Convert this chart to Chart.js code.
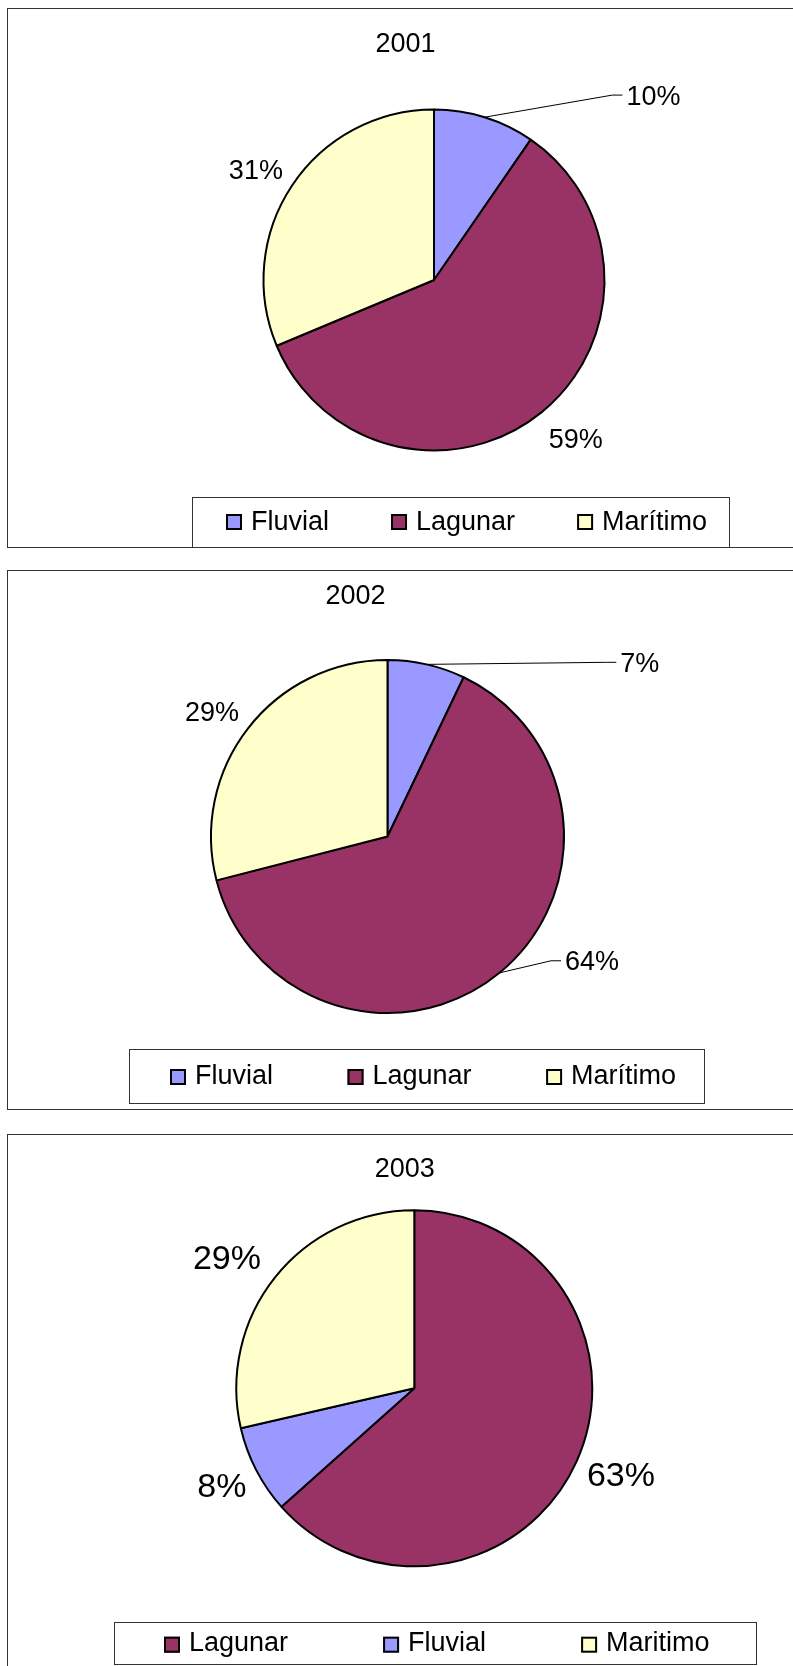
<!DOCTYPE html>
<html>
<head>
<meta charset="utf-8">
<script src="https://cdn.jsdelivr.net/npm/chart.js@4.4.0/dist/chart.umd.min.js"></script>
<style>
  body { margin: 0; width: 793px; height: 1666px; overflow: hidden; background: #fff; position: relative; }
  .frame { position: absolute; left: 7px; width: 900px; border: 1px solid #333; box-sizing: border-box; }
  canvas { position: absolute; left: 0; }
</style>
</head>
<body>
<div class="frame" style="top:8px;height:540px"></div>
<div class="frame" style="top:570px;height:540px"></div>
<div class="frame" style="top:1134px;height:600px"></div>
<canvas id="chart2001" width="793" height="560" style="top:0"></canvas>
<canvas id="chart2002" width="793" height="560" style="top:560px"></canvas>
<canvas id="chart2003" width="793" height="546" style="top:1120px"></canvas>
<script>
// Data (share of each type, %)
const years = ['2001', '2002', '2003'];
const categories2001 = ['Fluvial', 'Lagunar', 'Marítimo'];
const values2001 = [9.6, 59.1, 31.3];
const categories2002 = ['Fluvial', 'Lagunar', 'Marítimo'];
const values2002 = [7.1, 63.9, 29.0];
const categories2003 = ['Lagunar', 'Fluvial', 'Maritimo'];
const values2003 = [63.4, 8.0, 28.6];

const FONT = '"Liberation Sans", Arial, sans-serif';
const colorOf = {
    'Fluvial': '#9999FF',
    'Lagunar': '#993366',
    'Marítimo': '#FFFFCC',
    'Maritimo': '#FFFFCC'
};

function makePie(id, title, labels, values, cfg) {
    const canvas = document.getElementById(id);
    const W = canvas.width, H = canvas.height;
    const pad = 2;

    // title, % labels (with leader lines) and the boxed legend
    const decor = {
        id: 'decor' + title,
        afterDraw(chart) {
            const ctx = chart.ctx;
            const meta = chart.getDatasetMeta(0);
            const data = chart.data.datasets[0].data;
            const total = data.reduce((a, b) => a + b, 0);
            ctx.save();
            ctx.fillStyle = '#000';
            ctx.textBaseline = 'alphabetic';

            ctx.font = cfg.titleSize + 'px ' + FONT;
            ctx.textAlign = 'center';
            ctx.fillText(title, cfg.titleX, cfg.titleY + 0.358 * cfg.titleSize);

            ctx.font = cfg.labelSize + 'px ' + FONT;
            meta.data.forEach((arc, i) => {
                const p = cfg.labels[i];
                const mid = (arc.startAngle + arc.endAngle) / 2;
                const a = mid + p.shift * Math.PI / 180;
                const r = arc.outerRadius;
                const lx = arc.x + Math.cos(a) * r * p.dist;
                const ly = arc.y + Math.sin(a) * r * p.dist;
                const text = Math.round(data[i] / total * 100) + '%';
                const w = ctx.measureText(text).width;
                ctx.fillStyle = '#000';
                ctx.textAlign = 'center';
                ctx.fillText(text, lx, ly + 0.358 * cfg.labelSize);
                if (p.leader) {
                    const left = lx - w / 2;
                    ctx.beginPath();
                    ctx.moveTo(arc.x + Math.cos(mid) * r, arc.y + Math.sin(mid) * r);
                    ctx.lineTo(left - 14, ly);
                    ctx.lineTo(left - 4, ly);
                    ctx.strokeStyle = '#000';
                    ctx.lineWidth = 1;
                    ctx.stroke();
                }
            });

            const lg = cfg.legend;
            ctx.fillStyle = '#fff';
            ctx.fillRect(lg.x, lg.y, lg.w, lg.h);
            ctx.strokeStyle = '#333';
            ctx.lineWidth = 1;
            ctx.strokeRect(lg.x + 0.5, lg.y + 0.5, lg.w, lg.h);
            ctx.font = lg.size + 'px ' + FONT;
            ctx.textAlign = 'left';
            const bg = chart.data.datasets[0].backgroundColor;
            let x = lg.startX;
            chart.data.labels.forEach((name, i) => {
                ctx.fillStyle = bg[i];
                ctx.fillRect(x, lg.my - 8, 16, 16);
                ctx.strokeStyle = '#000';
                ctx.lineWidth = 2;
                ctx.strokeRect(x + 1, lg.my - 7, 14, 14);
                ctx.fillStyle = '#000';
                ctx.fillText(name, x + 25, lg.ty + 0.358 * lg.size);
                x += 25 + ctx.measureText(name).width + lg.gap;
            });
            ctx.restore();
        }
    };

    new Chart(canvas, {
        type: 'pie',
        data: {
            labels: labels,
            datasets: [{
                data: values,
                backgroundColor: labels.map(l => colorOf[l]),
                borderColor: '#000',
                borderWidth: 2,
                radius: cfg.r
            }]
        },
        options: {
            responsive: false,
            animation: false,
            layout: {
                padding: {
                    left: cfg.cx - cfg.r - pad,
                    right: W - cfg.cx - cfg.r - pad,
                    top: cfg.cy - cfg.r - pad,
                    bottom: H - cfg.cy - cfg.r - pad
                }
            },
            plugins: {
                legend: { display: false },
                tooltip: { enabled: false }
            }
        },
        plugins: [decor]
    });
}

makePie('chart2001', years[0], categories2001, values2001, {
    cx: 434, cy: 280, r: 170.5,
    titleX: 405.5, titleY: 42, titleSize: 27, labelSize: 27,
    labels: [
        { dist: 1.683, shift: 32.6, leader: true },
        { dist: 1.246, shift: -2.8 },
        { dist: 1.23, shift: -1.8 }
    ],
    legend: { x: 192, y: 497, w: 537, h: 50, startX: 226, my: 522, ty: 520, gap: 62, size: 27 }
});

makePie('chart2002', years[1], categories2002, values2002, {
    cx: 387.5, cy: 276.5, r: 176.5,
    titleX: 355.6, titleY: 34, titleSize: 27, labelSize: 27,
    labels: [
        { dist: 1.737, shift: 42.6, leader: true },
        { dist: 1.356, shift: -19.3, leader: true },
        { dist: 1.223, shift: -2.2 }
    ],
    legend: { x: 129, y: 489, w: 575, h: 54, startX: 170, my: 517, ty: 514.5, gap: 74.5, size: 27 }
});

makePie('chart2003', years[2], categories2003, values2003, {
    cx: 414.3, cy: 268.3, r: 178,
    titleX: 404.7, titleY: 47.7, titleSize: 27, labelSize: 34,
    labels: [
        { dist: 1.257, shift: -1.6 },
        { dist: 1.21, shift: 0.7 },
        { dist: 1.285, shift: -3.5 }
    ],
    legend: { x: 114, y: 502, w: 642, h: 42, startX: 164, my: 524.7, ty: 521.5, gap: 95, size: 27 }
});
</script>
</body>
</html>
